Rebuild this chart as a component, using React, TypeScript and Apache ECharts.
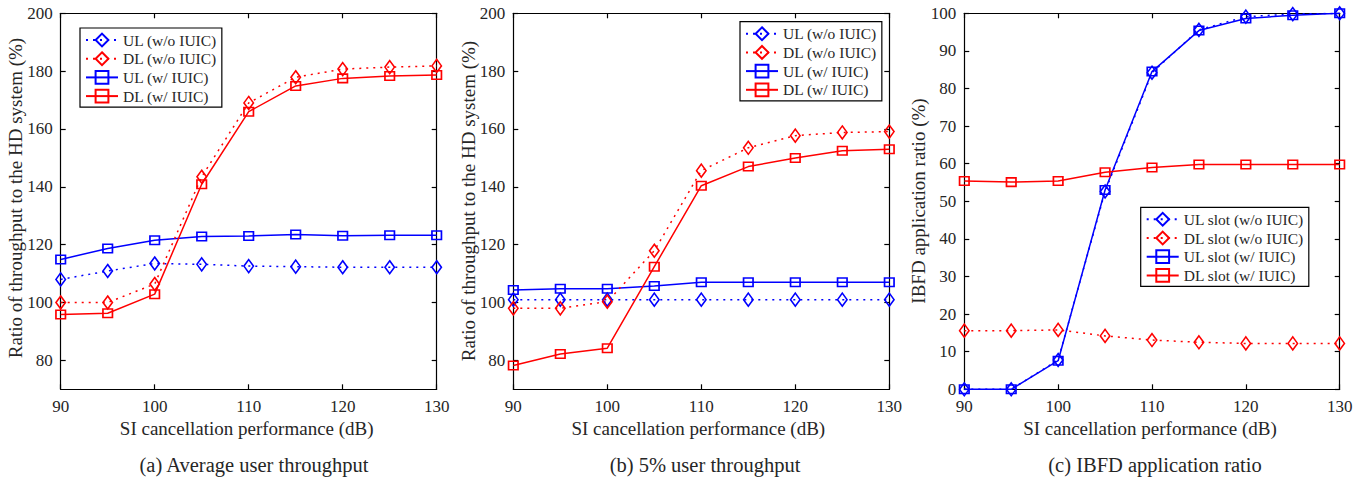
import React, { useEffect, useRef } from "react";
import * as echarts from "echarts";

const snr = [90, 95, 100, 105, 110, 115, 120, 125, 130];

// (a) Average user throughput
const aUlWo = [108, 110.9, 113.5, 113.2, 112.6, 112.4, 112.2, 112.2, 112.2];
const aDlWo = [100, 100, 106.4, 143.5, 169, 177.9, 180.7, 181.4, 181.8];
const aUlW = [114.9, 118.7, 121.5, 122.8, 123, 123.5, 123.1, 123.3, 123.3];
const aDlW = [95.9, 96.3, 102.9, 140.9, 166, 174.9, 177.5, 178.3, 178.7];

// (b) 5% user throughput
const bUlWo = [101, 101, 101, 101, 101, 101, 101, 101, 101];
const bDlWo = [98, 98, 100.3, 117.9, 145.6, 153.5, 157.7, 158.8, 159.1];
const bUlW = [104.3, 104.8, 104.8, 105.7, 107, 107, 107, 107, 107];
const bDlW = [78.2, 82.2, 84.2, 112.4, 140.4, 147, 150, 152.5, 153];

// (c) IBFD application ratio
const cUlWo = [0, 0, 7.8, 52.6, 84.2, 95.6, 99.1, 99.8, 100];
const cDlWo = [15.6, 15.6, 15.8, 14.2, 13.1, 12.5, 12.2, 12.2, 12.2];
const cUlW = [0, 0, 7.6, 53, 84.5, 95.4, 98.6, 99.5, 100];
const cDlW = [55.4, 55.1, 55.4, 57.7, 59, 59.8, 59.8, 59.8, 59.8];

const xTicks = [90, 100, 110, 120, 130];
const yTicksAB = [80, 100, 120, 140, 160, 180, 200];
const yTicksC = [0, 10, 20, 30, 40, 50, 60, 70, 80, 90, 100];

const namesAB = ["UL (w/o IUIC)", "DL (w/o IUIC)", "UL (w/ IUIC)", "DL (w/ IUIC)"];
const namesC = ["UL slot (w/o IUIC)", "DL slot (w/o IUIC)", "UL slot (w/ IUIC)", "DL slot (w/ IUIC)"];

const yTitleAB = "Ratio of throughput to the HD system (%)";
const yTitleC = "IBFD application ratio (%)";
const xTitle = "SI cancellation performance (dB)";
const captions = ["(a) Average user throughput", "(b) 5% user throughput", "(c) IBFD application ratio"];

const FONT = "'Liberation Serif', 'Times New Roman', serif";
const TXT = "#262626";
const BLUE = "#0000ff";
const RED = "#ff0000";

export default function App() {
  const ref = useRef<HTMLDivElement>(null);

  useEffect(() => {
    if (!ref.current) return;
    const chart = echarts.init(ref.current, undefined, { renderer: "svg" });

    const grids = [
      { left: 60.7, top: 13.3, width: 376, height: 376 },
      { left: 513.3, top: 13.3, width: 376, height: 376 },
      { left: 964.3, top: 13.3, width: 375.4, height: 376 },
    ];

    const axisLine = { show: true, onZero: false, lineStyle: { color: "#000", width: 1.2 } };
    const tickIn = { show: true, inside: true, length: 5, lineStyle: { color: "#000", width: 1.2 } };

    const xAxes: any[] = [];
    const yAxes: any[] = [];
    grids.forEach((_, i) => {
      const xb = {
        type: "value", gridIndex: i, min: 90, max: 130, interval: 10, position: "bottom",
        axisLine, axisTick: tickIn, splitLine: { show: false },
        axisLabel: { show: true, fontFamily: FONT, fontSize: 17, color: TXT, margin: 9, customValues: xTicks },
      };
      const xt = {
        type: "value", gridIndex: i, min: 90, max: 130, interval: 10, position: "top",
        axisLine, axisTick: tickIn, splitLine: { show: false }, axisLabel: { show: false },
      };
      xAxes.push(xb, xt);
      const isC = i === 2;
      const ticks = isC ? yTicksC : yTicksAB;
      const ymin = isC ? 0 : 70;
      const ymax = isC ? 100 : 200;
      const yl = {
        type: "value", gridIndex: i, min: ymin, max: ymax, interval: 10, position: "left",
        axisLine, axisTick: { ...tickIn, customValues: ticks }, splitLine: { show: false },
        axisLabel: { show: true, fontFamily: FONT, fontSize: 17, color: TXT, margin: 8, customValues: ticks },
      };
      const yr = {
        type: "value", gridIndex: i, min: ymin, max: ymax, interval: 10, position: "right",
        axisLine, axisTick: { ...tickIn, customValues: ticks }, splitLine: { show: false },
        axisLabel: { show: false },
      };
      yAxes.push(yl, yr);
    });

    const mk = (name: string, panel: number, ys: number[], color: string, dotted: boolean) => ({
      type: "line",
      name,
      xAxisIndex: panel * 2,
      yAxisIndex: panel * 2,
      data: snr.map((x, k) => [x, ys[k]]),
      symbol: dotted ? "diamond" : "rect",
      symbolSize: dotted ? [9.5, 13] : [9.5, 8.5],
      showAllSymbol: true,
      color,
      lineStyle: { color, width: 1.5, type: dotted ? [2, 5] : "solid" },
      itemStyle: { color: "transparent", borderColor: color, borderWidth: 1.6 },
      emphasis: { disabled: true },
      silent: true,
      z: dotted ? 3 : 2,
    });

    const series = [
      mk(namesAB[0], 0, aUlWo, BLUE, true),
      mk(namesAB[1], 0, aDlWo, RED, true),
      mk(namesAB[2], 0, aUlW, BLUE, false),
      mk(namesAB[3], 0, aDlW, RED, false),
      mk(namesAB[0], 1, bUlWo, BLUE, true),
      mk(namesAB[1], 1, bDlWo, RED, true),
      mk(namesAB[2], 1, bUlW, BLUE, false),
      mk(namesAB[3], 1, bDlW, RED, false),
      mk(namesC[0], 2, cUlWo, BLUE, true),
      mk(namesC[1], 2, cDlWo, RED, true),
      mk(namesC[2], 2, cUlW, BLUE, false),
      mk(namesC[3], 2, cDlW, RED, false),
    ];

    const legendBase = {
      orient: "vertical",
      itemWidth: 32,
      itemHeight: 16,
      itemGap: 2.7,
      padding: [4, 5, 3, 5],
      borderColor: "#000",
      borderWidth: 1.2,
      backgroundColor: "#fff",
      selectedMode: false,
      textStyle: { fontFamily: FONT, fontSize: 15.5, color: TXT },
    };
    const legends = [
      { ...legendBase, left: 80, top: 28, data: namesAB },
      { ...legendBase, left: 740, top: 21.7, data: namesAB },
      { ...legendBase, left: 1140.7, top: 207.3, data: namesC },
    ];

    const txt = (text: string, x: number, y: number, size: number, rot = 0) => ({
      type: "text",
      x,
      y,
      rotation: rot,
      silent: true,
      style: {
        text,
        fontFamily: FONT,
        fontSize: size,
        fill: TXT,
        textAlign: "center",
        textVerticalAlign: "middle",
      },
    });

    const graphic = [
      txt(yTitleAB, 15.5, 198, 19, Math.PI / 2),
      txt(yTitleAB, 468.5, 201, 19, Math.PI / 2),
      txt(yTitleC, 918, 201, 19, Math.PI / 2),
      txt(xTitle, 246.7, 428, 19),
      txt(xTitle, 698.3, 428, 19),
      txt(xTitle, 1150, 428, 19),
      txt(captions[0], 254, 465, 20.5),
      txt(captions[1], 705, 465, 20.5),
      txt(captions[2], 1155, 465, 20.5),
    ];

    chart.setOption({
      animation: false,
      backgroundColor: "#fff",
      grid: grids,
      xAxis: xAxes,
      yAxis: yAxes,
      legend: legends,
      series,
      graphic,
    });

    return () => chart.dispose();
  }, []);

  return (
    <div
      ref={ref}
      style={{ position: "fixed", left: 0, top: 0, width: 1371, height: 481 }}
    />
  );
}
